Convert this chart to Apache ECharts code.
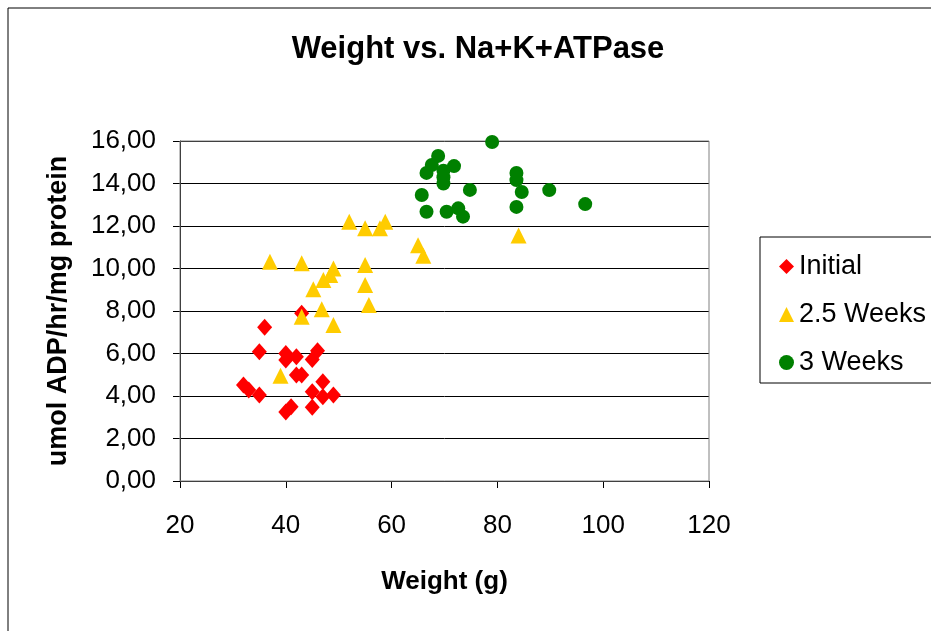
<!DOCTYPE html>
<html><head><meta charset="utf-8">
<script src="https://cdn.jsdelivr.net/npm/echarts@6/dist/echarts.min.js"></script>
<style>html,body{margin:0;padding:0;background:#fff}#c{width:931px;height:631px}</style>
</head><body><div id="c"></div>
<script>
const seriesNames = ['Initial', '2.5 Weeks', '3 Weeks'];
const initialData = [[32,4.52],[33,4.28],[35,4.05],[36,7.23],[35,6.08],[40,6.0],[40,5.7],[42,5.85],[42,4.99],[43,4.99],[43,7.9],[46,6.13],[45,5.72],[47,4.67],[45,4.2],[47,3.97],[49,4.05],[40,3.25],[41,3.5],[45,3.47]];
const weeks25Data = [[52,12.2],[55,11.9],[58.8,12.2],[57.8,11.9],[37,10.32],[43,10.25],[49,10.0],[48.4,9.7],[47.1,9.46],[45.2,9.02],[55,10.16],[55,9.22],[55.7,8.28],[46.8,8.08],[43,7.73],[49,7.34],[39,4.95],[65,11.1],[66,10.6],[84,11.55]];
const weeks3Data = [[79,15.95],[68.8,15.3],[67.6,14.87],[66.6,14.5],[69.8,14.6],[69.8,14.3],[69.8,14.0],[71.8,14.82],[74.8,13.7],[65.7,13.46],[66.6,12.67],[70.4,12.67],[72.6,12.83],[73.5,12.44],[83.6,14.5],[83.6,14.16],[84.6,13.6],[83.6,12.9],[96.6,13.03],[89.8,13.69]];
const xTicks = {min: 20, max: 120, interval: 20};
const yTicks = {min: 0, max: 16, interval: 2};

const chart = echarts.init(document.getElementById('c'));
const font = 'Arial, "Liberation Sans", sans-serif';
chart.setOption({
  animation: false,
  backgroundColor: '#fff',
  title: {text: 'Weight vs. Na+K+ATPase', left: 473, top: 29, textAlign: 'center',
    textStyle: {fontFamily: font, fontSize: 31, fontWeight: 'bold', color: '#000'}},
  grid: {left: 180, right: 222, top: 141, bottom: 150},
  graphic: [
    {type: 'rect', shape: {x: 8, y: 8, width: 1000, height: 700}, style: {fill: 'none', stroke: '#000', lineWidth: 1}, silent: true, z: -1},
    {type: 'rect', shape: {x: 760, y: 237, width: 220, height: 146}, style: {fill: '#fff', stroke: '#000', lineWidth: 1}, silent: true, z: 0},
    {type: 'rect', shape: {x: 180, y: 141, width: 529, height: 340}, style: {fill: 'none', stroke: '#808080', lineWidth: 1}, silent: true, z: 1}
  ],
  legend: {orient: 'vertical', left: 774, top: 248, itemGap: 21, itemWidth: 15, itemHeight: 15,
    data: [{name: 'Initial', icon: 'diamond'}, {name: '2.5 Weeks', icon: 'triangle'}, {name: '3 Weeks', icon: 'circle'}],
    textStyle: {fontFamily: font, fontSize: 27, color: '#000'}, z: 5},
  xAxis: {type: 'value', min: xTicks.min, max: xTicks.max, interval: xTicks.interval,
    name: 'Weight (g)', nameLocation: 'middle', nameGap: 88,
    nameTextStyle: {fontFamily: font, fontSize: 26, fontWeight: 'bold', color: '#000'},
    axisLine: {show: true, lineStyle: {color: '#000', width: 1}},
    axisTick: {show: true, inside: false, length: 7, lineStyle: {color: '#000'}},
    axisLabel: {fontFamily: font, fontSize: 26, color: '#000', margin: 32},
    splitLine: {show: false}},
  yAxis: {type: 'value', min: yTicks.min, max: yTicks.max, interval: yTicks.interval,
    name: 'umol ADP/hr/mg protein', nameLocation: 'middle', nameGap: 108,
    nameTextStyle: {fontFamily: font, fontSize: 27, fontWeight: 'bold', color: '#000'},
    axisLine: {show: true, lineStyle: {color: '#000', width: 1}},
    axisTick: {show: true, inside: false, length: 7, lineStyle: {color: '#000'}},
    axisLabel: {fontFamily: font, fontSize: 26, color: '#000', margin: 24,
      formatter: v => v.toFixed(2).replace('.', ',')},
    splitLine: {show: true, lineStyle: {color: '#000', width: 1}}},
  series: [
    {name: seriesNames[0], type: 'scatter', symbol: 'diamond', symbolSize: [15, 17], data: initialData,
      itemStyle: {color: '#ff0000', opacity: 1}},
    {name: seriesNames[1], type: 'scatter', symbol: 'triangle', symbolSize: 16, data: weeks25Data,
      itemStyle: {color: '#ffcc00', opacity: 1}},
    {name: seriesNames[2], type: 'scatter', symbol: 'circle', symbolSize: 14, data: weeks3Data,
      itemStyle: {color: '#008000', opacity: 1}}
  ]
});
</script></body></html>
